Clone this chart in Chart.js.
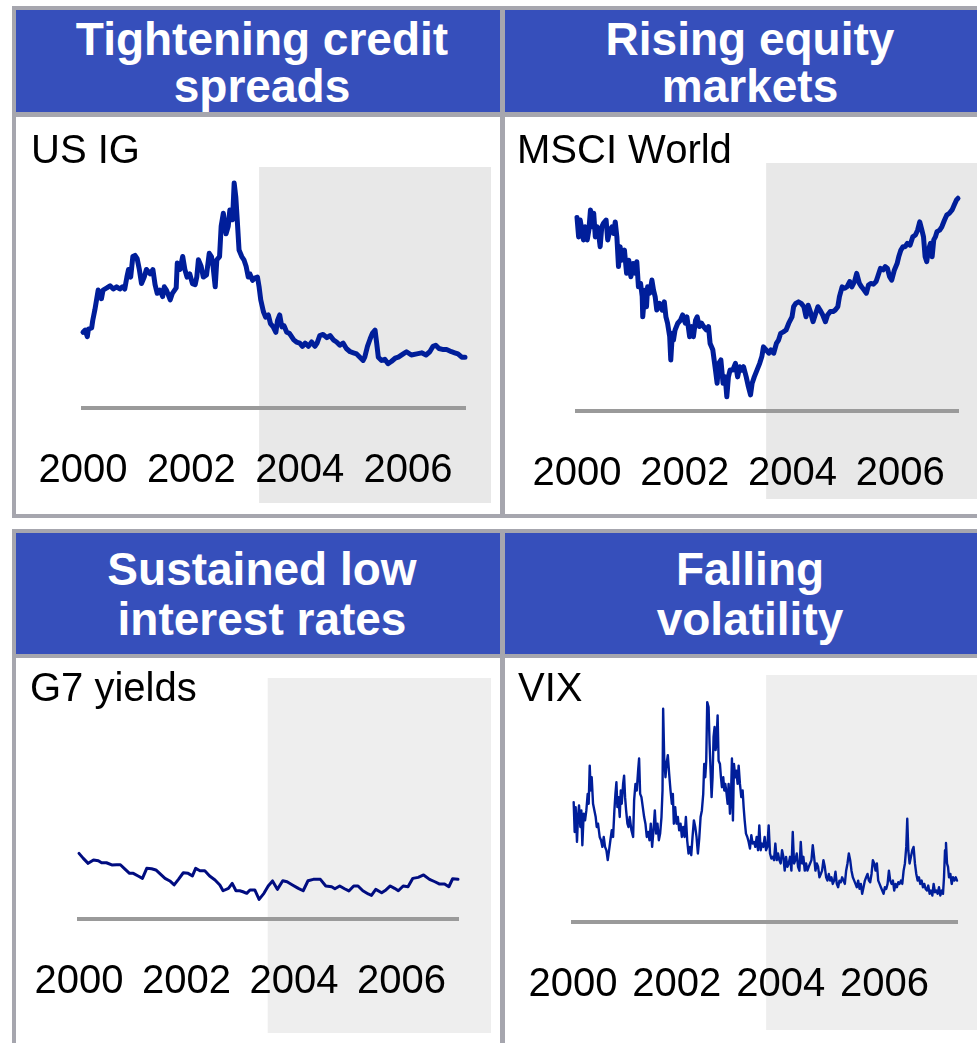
<!DOCTYPE html>
<html>
<head>
<meta charset="utf-8">
<script src="https://cdn.jsdelivr.net/npm/chart.js@4"></script>
<style>
	html, body { margin: 0; padding: 0; overflow: hidden; }
	body { position: relative; width: 977px; height: 1043px; background: #fff; font-family: "Liberation Sans", Arial, sans-serif; }
	.row { position: absolute; left: 12px; width: 1000px; background: #a6a6ae; }
	.head { position: absolute; box-sizing: border-box; background: #364fbb; color: #fff; font-weight: bold; font-size: 46px; display: flex; align-items: center; justify-content: center; text-align: center; }
	.left { left: 4px; width: 484px; padding-left: 8px; }
	.right { left: 493px; width: 490px; }
	.body { position: absolute; background: #fff; overflow: hidden; }
	.label { position: absolute; font-size: 40px; line-height: 40px; color: #000; white-space: nowrap; z-index: 2; }
	canvas { position: absolute; left: 0; top: 0; }
</style>
</head>
<body>
	<div class="row" style="top: 6px; height: 512px">
		<div class="head left" style="top: 4px; height: 102px; line-height: 47px; padding-top: 4px">Tightening credit<br>spreads</div>
		<div class="head right" style="top: 4px; height: 102px; line-height: 47px; padding-top: 4px">Rising equity<br>markets</div>
		<div class="body" style="left: 4px; top: 111px; width: 484px; height: 397px">
			<div class="label" style="left: 15px; top: 12px">US IG</div>
			<canvas id="chartIG" width="484" height="397"></canvas>
		</div>
		<div class="body" style="left: 493px; top: 111px; width: 490px; height: 397px">
			<div class="label" style="left: 12px; top: 12px">MSCI World</div>
			<canvas id="chartMSCI" width="490" height="397"></canvas>
		</div>
	</div>
	<div class="row" style="top: 529px; height: 600px">
		<div class="head left" style="top: 4px; height: 121px; line-height: 50px">Sustained low<br>interest rates</div>
		<div class="head right" style="top: 4px; height: 121px; line-height: 50px">Falling<br>volatility</div>
		<div class="body" style="left: 4px; top: 129px; width: 484px; height: 400px">
			<div class="label" style="left: 14px; top: 9px">G7 yields</div>
			<canvas id="chartG7" width="484" height="385"></canvas>
		</div>
		<div class="body" style="left: 493px; top: 129px; width: 490px; height: 400px">
			<div class="label" style="left: 13px; top: 9px">VIX</div>
			<canvas id="chartVIX" width="490" height="385"></canvas>
		</div>
	</div>

<script>
/* Data */
const tickYears = [2000, 2002, 2004, 2006]

// US investment grade spread, bp
const igYears = [
	2000.00, 2000.04, 2000.08, 2000.10, 2000.16, 2000.18, 2000.22, 2000.25, 2000.28, 2000.31,
	2000.34, 2000.37, 2000.44, 2000.50, 2000.56, 2000.62, 2000.68, 2000.73, 2000.77, 2000.81,
	2000.84, 2000.88, 2000.92, 2000.96, 2001.00, 2001.04, 2001.08, 2001.13, 2001.17, 2001.24,
	2001.29, 2001.33, 2001.37, 2001.42, 2001.47, 2001.50, 2001.54, 2001.61, 2001.65, 2001.72,
	2001.74, 2001.79, 2001.84, 2001.88, 2001.92, 2001.97, 2002.02, 2002.07, 2002.10, 2002.13,
	2002.18, 2002.22, 2002.28, 2002.33, 2002.37, 2002.40, 2002.44, 2002.47, 2002.52, 2002.55,
	2002.59, 2002.64, 2002.68, 2002.71, 2002.76, 2002.79, 2002.82, 2002.85, 2002.88, 2002.93,
	2002.97, 2003.01, 2003.05, 2003.08, 2003.13, 2003.17, 2003.22, 2003.25, 2003.28, 2003.33,
	2003.37, 2003.42, 2003.46, 2003.51, 2003.56, 2003.59, 2003.63, 2003.67, 2003.71, 2003.76,
	2003.81, 2003.85, 2003.89, 2003.94, 2004.00, 2004.05, 2004.10, 2004.16, 2004.22, 2004.28,
	2004.32, 2004.37, 2004.43, 2004.50, 2004.56, 2004.62, 2004.68, 2004.74, 2004.80, 2004.86,
	2004.93, 2004.99, 2005.05, 2005.11, 2005.17, 2005.20, 2005.25, 2005.30, 2005.34, 2005.39,
	2005.42, 2005.45, 2005.51, 2005.57, 2005.63, 2005.69, 2005.76, 2005.82, 2005.91, 2005.97,
	2006.06, 2006.16, 2006.25, 2006.33, 2006.40, 2006.46, 2006.51, 2006.57, 2006.65, 2006.71,
	2006.80, 2006.86, 2006.92, 2006.99, 2007.05,
]
const igSpread = [
	110, 112, 106, 113, 114, 121, 131, 140, 149, 146,
	141, 149, 151, 153, 150, 152, 150, 152, 150, 161,
	168, 161, 180, 181, 178, 168, 155, 161, 168, 164,
	168, 154, 146, 149, 143, 152, 149, 140, 146, 151,
	174, 168, 180, 168, 161, 164, 155, 154, 161, 177,
	171, 161, 163, 183, 180, 171, 152, 177, 180, 208,
	220, 201, 208, 223, 214, 248, 235, 211, 186, 180,
	177, 171, 161, 164, 158, 160, 161, 152, 140, 129,
	124, 126, 118, 115, 110, 121, 126, 115, 116, 110,
	109, 106, 103, 101, 100, 97, 100, 97, 101, 97,
	100, 107, 108, 105, 107, 103, 101, 98, 100, 95,
	92, 91, 90, 87, 84, 87, 97, 104, 109, 112,
	100, 87, 84, 85, 81, 83, 86, 87, 90, 92,
	89, 90, 91, 89, 92, 97, 98, 95, 94, 94,
	92, 91, 90, 87, 87,
]

// MSCI World, index
const msciYears = [
	2000.00, 2000.03, 2000.06, 2000.09, 2000.12, 2000.15, 2000.19, 2000.22, 2000.25, 2000.28,
	2000.31, 2000.34, 2000.37, 2000.40, 2000.43, 2000.46, 2000.49, 2000.54, 2000.57, 2000.61,
	2000.65, 2000.68, 2000.71, 2000.74, 2000.77, 2000.80, 2000.83, 2000.88, 2000.92, 2000.96,
	2001.00, 2001.04, 2001.08, 2001.11, 2001.14, 2001.18, 2001.21, 2001.22, 2001.26, 2001.29,
	2001.31, 2001.35, 2001.39, 2001.42, 2001.45, 2001.48, 2001.53, 2001.58, 2001.62, 2001.65,
	2001.68, 2001.72, 2001.74, 2001.77, 2001.79, 2001.82, 2001.87, 2001.92, 2001.96, 2002.01,
	2002.04, 2002.09, 2002.13, 2002.16, 2002.20, 2002.23, 2002.27, 2002.31, 2002.35, 2002.40,
	2002.44, 2002.47, 2002.52, 2002.57, 2002.60, 2002.63, 2002.67, 2002.71, 2002.75, 2002.78,
	2002.81, 2002.84, 2002.89, 2002.94, 2002.98, 2003.02, 2003.06, 2003.09, 2003.14, 2003.18,
	2003.22, 2003.25, 2003.29, 2003.34, 2003.39, 2003.43, 2003.46, 2003.51, 2003.56, 2003.60,
	2003.65, 2003.70, 2003.74, 2003.78, 2003.83, 2003.88, 2003.93, 2003.99, 2004.02, 2004.06,
	2004.11, 2004.16, 2004.21, 2004.25, 2004.29, 2004.33, 2004.38, 2004.42, 2004.47, 2004.51,
	2004.56, 2004.61, 2004.65, 2004.70, 2004.75, 2004.79, 2004.84, 2004.87, 2004.92, 2004.97,
	2005.01, 2005.06, 2005.10, 2005.15, 2005.19, 2005.24, 2005.28, 2005.33, 2005.37, 2005.41,
	2005.45, 2005.50, 2005.55, 2005.58, 2005.63, 2005.68, 2005.72, 2005.76, 2005.80, 2005.84,
	2005.89, 2005.94, 2005.97, 2006.01, 2006.05, 2006.09, 2006.13, 2006.18, 2006.23, 2006.28,
	2006.32, 2006.36, 2006.40, 2006.43, 2006.46, 2006.49, 2006.52, 2006.56, 2006.59, 2006.62,
	2006.65, 2006.68, 2006.73, 2006.77, 2006.82, 2006.86, 2006.91, 2006.96, 2007.00, 2007.04,
	2007.07,
]
const msciIndex = [
	101.6, 96.4, 100.9, 98.2, 95.6, 99.1, 95.6, 98.2, 103.6, 99.1,
	102.7, 96.4, 99.1, 97.3, 93.8, 99.1, 100.0, 100.9, 95.6, 98.2,
	99.1, 97.3, 100.4, 96.4, 88.5, 93.8, 90.2, 92.9, 86.7, 90.2,
	85.8, 89.3, 86.7, 89.8, 83.1, 84.0, 80.5, 75.1, 82.2, 77.8,
	83.1, 81.4, 84.9, 82.2, 80.5, 76.9, 78.7, 76.9, 79.1, 75.1,
	73.4, 69.8, 63.6, 70.7, 68.9, 71.6, 73.4, 74.2, 75.6, 73.4,
	75.1, 69.8, 72.5, 69.8, 74.2, 75.1, 72.5, 73.4, 72.5, 71.6,
	72.5, 68.0, 66.3, 60.9, 57.4, 62.7, 63.6, 57.4, 59.1, 53.8,
	59.1, 60.9, 60.9, 62.7, 59.1, 61.8, 60.9, 61.8, 59.1, 56.5,
	54.3, 57.4, 59.1, 60.9, 62.7, 64.5, 67.1, 66.3, 65.4, 66.3,
	65.4, 68.0, 68.9, 70.7, 71.1, 71.6, 73.4, 75.1, 77.8, 78.7,
	79.1, 78.7, 77.8, 75.1, 78.2, 76.5, 73.8, 75.6, 77.8, 76.9,
	75.6, 73.8, 75.6, 76.5, 76.5, 76.9, 77.8, 80.5, 83.1, 82.7,
	83.1, 84.5, 83.1, 84.5, 86.7, 84.0, 83.1, 82.2, 81.4, 83.6,
	84.0, 83.8, 84.5, 85.8, 88.0, 87.6, 88.5, 88.0, 85.8, 84.9,
	87.6, 89.3, 91.1, 92.9, 93.8, 93.8, 94.7, 94.2, 96.4, 96.9,
	98.2, 100.4, 98.2, 96.4, 91.1, 89.8, 92.9, 94.7, 91.1, 95.6,
	96.4, 97.8, 98.2, 99.1, 100.9, 102.2, 102.7, 103.6, 104.9, 106.2,
	106.7,
]

// G7 government bond yields, %
const g7Years = [
	2000.00, 2000.08, 2000.17, 2000.27, 2000.36, 2000.42, 2000.51, 2000.61, 2000.70, 2000.77,
	2000.86, 2000.94, 2001.01, 2001.10, 2001.18, 2001.26, 2001.35, 2001.43, 2001.51, 2001.60,
	2001.69, 2001.77, 2001.85, 2001.94, 2002.03, 2002.11, 2002.17, 2002.25, 2002.34, 2002.43,
	2002.53, 2002.62, 2002.68, 2002.78, 2002.85, 2002.92, 2002.99, 2003.05, 2003.12, 2003.18,
	2003.27, 2003.35, 2003.44, 2003.52, 2003.60, 2003.69, 2003.79, 2003.87, 2003.97, 2004.08,
	2004.17, 2004.26, 2004.36, 2004.49, 2004.59, 2004.70, 2004.76, 2004.85, 2004.94, 2005.02,
	2005.11, 2005.19, 2005.28, 2005.38, 2005.44, 2005.52, 2005.63, 2005.71, 2005.79, 2005.87,
	2005.94, 2006.03, 2006.12, 2006.21, 2006.31, 2006.41, 2006.52, 2006.62, 2006.70, 2006.80,
	2006.88, 2006.95, 2007.05,
]
const g7Yield = [
	5.70, 5.45, 5.20, 5.37, 5.33, 5.23, 5.23, 5.12, 5.13, 5.13,
	4.90, 4.70, 4.70, 4.57, 4.45, 4.95, 4.93, 4.87, 4.67, 4.45,
	4.32, 4.12, 4.40, 4.73, 4.70, 4.57, 4.95, 4.83, 4.83, 4.57,
	4.37, 4.12, 3.83, 3.95, 4.20, 3.83, 3.83, 3.78, 3.70, 3.87,
	3.87, 3.40, 3.70, 4.07, 4.32, 3.90, 4.33, 4.28, 4.12, 3.95,
	3.83, 4.33, 4.40, 4.40, 4.07, 4.03, 3.93, 4.07, 3.93, 3.82,
	4.07, 4.07, 3.83, 3.67, 3.60, 3.90, 3.73, 3.87, 4.07, 3.95,
	3.83, 4.07, 4.03, 4.45, 4.50, 4.62, 4.40, 4.28, 4.17, 4.17,
	4.03, 4.43, 4.40,
]

// VIX
const vixYears = [
	2000.013, 2000.032, 2000.051, 2000.077, 2000.096, 2000.116, 2000.141, 2000.161, 2000.180, 2000.206,
	2000.232, 2000.257, 2000.283, 2000.302, 2000.322, 2000.341, 2000.360, 2000.386, 2000.412, 2000.437,
	2000.457, 2000.482, 2000.514, 2000.540, 2000.566, 2000.592, 2000.617, 2000.643, 2000.669, 2000.695,
	2000.720, 2000.746, 2000.772, 2000.797, 2000.817, 2000.836, 2000.855, 2000.875, 2000.900, 2000.920,
	2000.939, 2000.965, 2000.984, 2001.003, 2001.023, 2001.048, 2001.068, 2001.093, 2001.125, 2001.158,
	2001.177, 2001.203, 2001.228, 2001.254, 2001.273, 2001.293, 2001.318, 2001.344, 2001.370, 2001.395,
	2001.421, 2001.447, 2001.473, 2001.498, 2001.524, 2001.550, 2001.576, 2001.601, 2001.627, 2001.653,
	2001.678, 2001.704, 2001.724, 2001.736, 2001.756, 2001.781, 2001.801, 2001.826, 2001.852, 2001.878,
	2001.904, 2001.923, 2001.942, 2001.968, 2001.994, 2002.019, 2002.045, 2002.071, 2002.096, 2002.122,
	2002.148, 2002.174, 2002.199, 2002.225, 2002.251, 2002.277, 2002.302, 2002.328, 2002.354, 2002.379,
	2002.405, 2002.431, 2002.457, 2002.482, 2002.508, 2002.527, 2002.547, 2002.566, 2002.585, 2002.611,
	2002.630, 2002.650, 2002.669, 2002.688, 2002.707, 2002.727, 2002.746, 2002.765, 2002.785, 2002.804,
	2002.830, 2002.849, 2002.868, 2002.894, 2002.913, 2002.933, 2002.958, 2002.978, 2002.997, 2003.023,
	2003.042, 2003.061, 2003.080, 2003.100, 2003.125, 2003.145, 2003.170, 2003.190, 2003.215, 2003.241,
	2003.267, 2003.286, 2003.306, 2003.331, 2003.357, 2003.383, 2003.408, 2003.434, 2003.460, 2003.486,
	2003.511, 2003.537, 2003.563, 2003.588, 2003.614, 2003.640, 2003.666, 2003.691, 2003.717, 2003.743,
	2003.768, 2003.794, 2003.820, 2003.846, 2003.871, 2003.897, 2003.923, 2003.949, 2003.974, 2004.000,
	2004.026, 2004.051, 2004.077, 2004.103, 2004.129, 2004.154, 2004.180, 2004.206, 2004.232, 2004.257,
	2004.283, 2004.309, 2004.334, 2004.360, 2004.386, 2004.412, 2004.437, 2004.463, 2004.489, 2004.514,
	2004.540, 2004.566, 2004.592, 2004.617, 2004.643, 2004.669, 2004.695, 2004.720, 2004.746, 2004.772,
	2004.797, 2004.823, 2004.849, 2004.875, 2004.900, 2004.926, 2004.952, 2004.977, 2005.003, 2005.029,
	2005.055, 2005.080, 2005.106, 2005.132, 2005.158, 2005.183, 2005.209, 2005.235, 2005.260, 2005.286,
	2005.312, 2005.338, 2005.363, 2005.389, 2005.415, 2005.440, 2005.466, 2005.492, 2005.518, 2005.543,
	2005.569, 2005.595, 2005.621, 2005.646, 2005.672, 2005.698, 2005.723, 2005.749, 2005.775, 2005.801,
	2005.826, 2005.852, 2005.878, 2005.904, 2005.929, 2005.955, 2005.981, 2006.006, 2006.032, 2006.058,
	2006.084, 2006.109, 2006.135, 2006.161, 2006.186, 2006.212, 2006.238, 2006.264, 2006.289, 2006.315,
	2006.341, 2006.367, 2006.392, 2006.418, 2006.437, 2006.457, 2006.482, 2006.508, 2006.534, 2006.559,
	2006.585, 2006.611, 2006.637, 2006.662, 2006.688, 2006.714, 2006.739, 2006.765, 2006.791, 2006.817,
	2006.842, 2006.868, 2006.894, 2006.920, 2006.945, 2006.971, 2006.997, 2007.022, 2007.048, 2007.074,
	2007.100, 2007.125, 2007.145, 2007.164, 2007.183, 2007.203, 2007.222, 2007.241, 2007.267, 2007.293,
	2007.318, 2007.344, 2007.370, 2007.395,
]
const vixLevel = [
	26.9, 21.5, 26.0, 19.7, 24.2, 26.3, 22.4, 25.4, 19.1, 24.8,
	23.6, 25.4, 28.4, 26.6, 33.5, 29.0, 31.4, 26.6, 25.4, 24.2,
	22.4, 23.0, 20.6, 20.0, 18.8, 20.6, 18.8, 18.2, 16.4, 18.2,
	20.0, 21.8, 20.6, 25.4, 28.4, 30.5, 26.0, 27.8, 24.2, 29.0,
	26.6, 30.2, 31.7, 27.8, 25.4, 23.0, 22.4, 24.2, 21.8, 20.6,
	27.2, 30.2, 29.0, 32.6, 34.8, 28.4, 27.8, 26.0, 24.2, 23.0,
	20.6, 21.5, 20.0, 23.0, 18.8, 21.8, 25.4, 21.2, 23.0, 20.0,
	21.2, 24.2, 29.0, 43.8, 35.0, 31.4, 33.8, 35.4, 32.0, 29.0,
	26.6, 28.4, 23.0, 26.0, 23.0, 24.2, 21.8, 23.0, 20.6, 22.4,
	20.6, 24.2, 20.0, 17.6, 18.8, 17.3, 20.6, 23.6, 22.4, 20.6,
	17.6, 20.3, 24.2, 25.4, 28.4, 33.8, 31.4, 34.4, 45.0, 44.1,
	37.5, 32.6, 27.8, 31.4, 38.7, 40.5, 36.3, 38.1, 42.6, 34.4,
	33.8, 31.4, 29.6, 31.4, 29.0, 30.2, 28.4, 26.6, 30.2, 24.8,
	27.8, 34.8, 23.6, 33.8, 31.4, 32.6, 30.2, 33.5, 30.2, 27.8,
	29.0, 26.0, 23.6, 21.2, 20.6, 19.7, 18.5, 20.9, 19.4, 19.7,
	18.8, 20.6, 18.2, 22.7, 18.2, 19.4, 18.8, 20.6, 18.2, 18.8,
	22.7, 17.6, 16.7, 17.0, 16.4, 19.4, 16.4, 17.6, 16.4, 15.8,
	18.2, 17.0, 14.5, 17.0, 15.2, 15.8, 17.0, 14.5, 21.5, 15.8,
	16.4, 17.6, 15.2, 14.5, 19.7, 15.8, 17.0, 14.5, 15.8, 14.5,
	15.2, 15.8, 16.4, 19.1, 17.0, 14.5, 15.8, 15.2, 13.3, 13.9,
	14.5, 16.4, 15.2, 13.3, 12.7, 13.9, 12.7, 13.3, 12.1, 12.7,
	14.3, 12.1, 11.5, 12.7, 12.4, 13.3, 12.7, 12.1, 14.5, 15.8,
	17.6, 16.4, 14.5, 13.3, 12.7, 12.1, 11.5, 12.7, 11.2, 12.1,
	10.3, 11.5, 12.7, 13.3, 13.9, 12.7, 12.4, 13.9, 16.4, 15.8,
	14.5, 15.8, 12.7, 12.1, 11.5, 10.9, 10.3, 11.5, 11.2, 12.1,
	14.5, 12.7, 12.1, 12.7, 10.9, 12.1, 11.5, 12.4, 12.1, 12.7,
	12.1, 14.5, 15.8, 18.8, 23.9, 18.2, 15.8, 17.0, 18.2, 18.8,
	15.8, 13.9, 12.7, 13.3, 12.1, 12.7, 11.5, 12.1, 11.2, 10.9,
	11.8, 10.3, 10.9, 10.0, 12.1, 10.6, 10.9, 10.3, 11.5, 10.0,
	10.9, 10.3, 13.3, 18.2, 19.5, 15.8, 15.2, 13.3, 13.9, 12.1,
	13.3, 12.7, 13.3, 12.7,
]

/* Grey band behind the later years */
const shadePlugin = {
	id: 'shade',
	beforeDraw(chart, args, opts) {
		const ctx = chart.ctx
		const x = chart.scales.x.getPixelForValue(opts.from)
		ctx.save()
		ctx.fillStyle = opts.color
		ctx.fillRect(x, opts.top, opts.right - x, opts.bottom - opts.top)
		ctx.restore()
	},
}

function drawPanel(id, years, values, o) {
	new Chart(document.getElementById(id), {
		type: 'line',
		data: {
			datasets: [
				{
					data: years.map((x, i) => ({ x: x, y: values[i] })),
					borderColor: o.color,
					borderWidth: o.width,
					pointRadius: 0,
					tension: 0,
					borderJoinStyle: 'round',
					borderCapStyle: 'round',
					clip: false,
				},
			],
		},
		options: {
			responsive: false,
			animation: false,
			events: [],
			layout: { padding: o.padding },
			plugins: {
				legend: { display: false },
				tooltip: { enabled: false },
				shade: o.shade,
			},
			scales: {
				x: {
					type: 'linear',
					min: 2000,
					max: years[years.length - 1],
					grid: { display: false },
					border: { display: true, color: '#9a9a9a', width: 4 },
					ticks: {
						padding: 31,
						color: '#000',
						font: { size: 40, family: '"Liberation Sans", Arial, sans-serif' },
						maxRotation: 0,
						autoSkip: false,
						callback: (v) => String(v),
					},
					afterBuildTicks: (axis) => {
						axis.ticks = tickYears.map((v) => ({ value: v }))
					},
					afterFit: (axis) => {
						axis.height = 100
						axis.paddingLeft = 0
						axis.paddingRight = 0
					},
				},
				y: { display: false, min: o.min, max: o.max },
			},
		},
		plugins: [shadePlugin],
	})
}

drawPanel('chartIG', igYears, igSpread, {
	color: '#001e9a',
	width: 5,
	min: 40,
	max: 272,
	padding: { left: 67, right: 35, top: 40, bottom: 6 },
	shade: { from: 2003.25, top: 50, bottom: 386, right: 475, color: '#e8e8e8' },
})

drawPanel('chartMSCI', msciYears, msciIndex, {
	color: '#001e9a',
	width: 5,
	min: 50,
	max: 117.7,
	padding: { left: 72, right: 37, top: 40, bottom: 3 },
	shade: { from: 2003.51, top: 46, bottom: 382, right: 490, color: '#e8e8e8' },
})

drawPanel('chartG7', g7Years, g7Yield, {
	color: '#000c80',
	width: 3,
	min: 2.417,
	max: 13.47,
	padding: { left: 63, right: 42, top: 40, bottom: 24 },
	shade: { from: 2003.51, top: 20, bottom: 375, right: 475, color: '#eeeeee' },
})

drawPanel('chartVIX', vixYears, vixLevel, {
	color: '#001e9a',
	width: 2.4,
	min: 5.21,
	max: 45.74,
	padding: { left: 68, right: 38, top: 40, bottom: 21 },
	shade: { from: 2003.72, top: 17, bottom: 372, right: 490, color: '#eeeeee' },
})
</script>
</body>
</html>
